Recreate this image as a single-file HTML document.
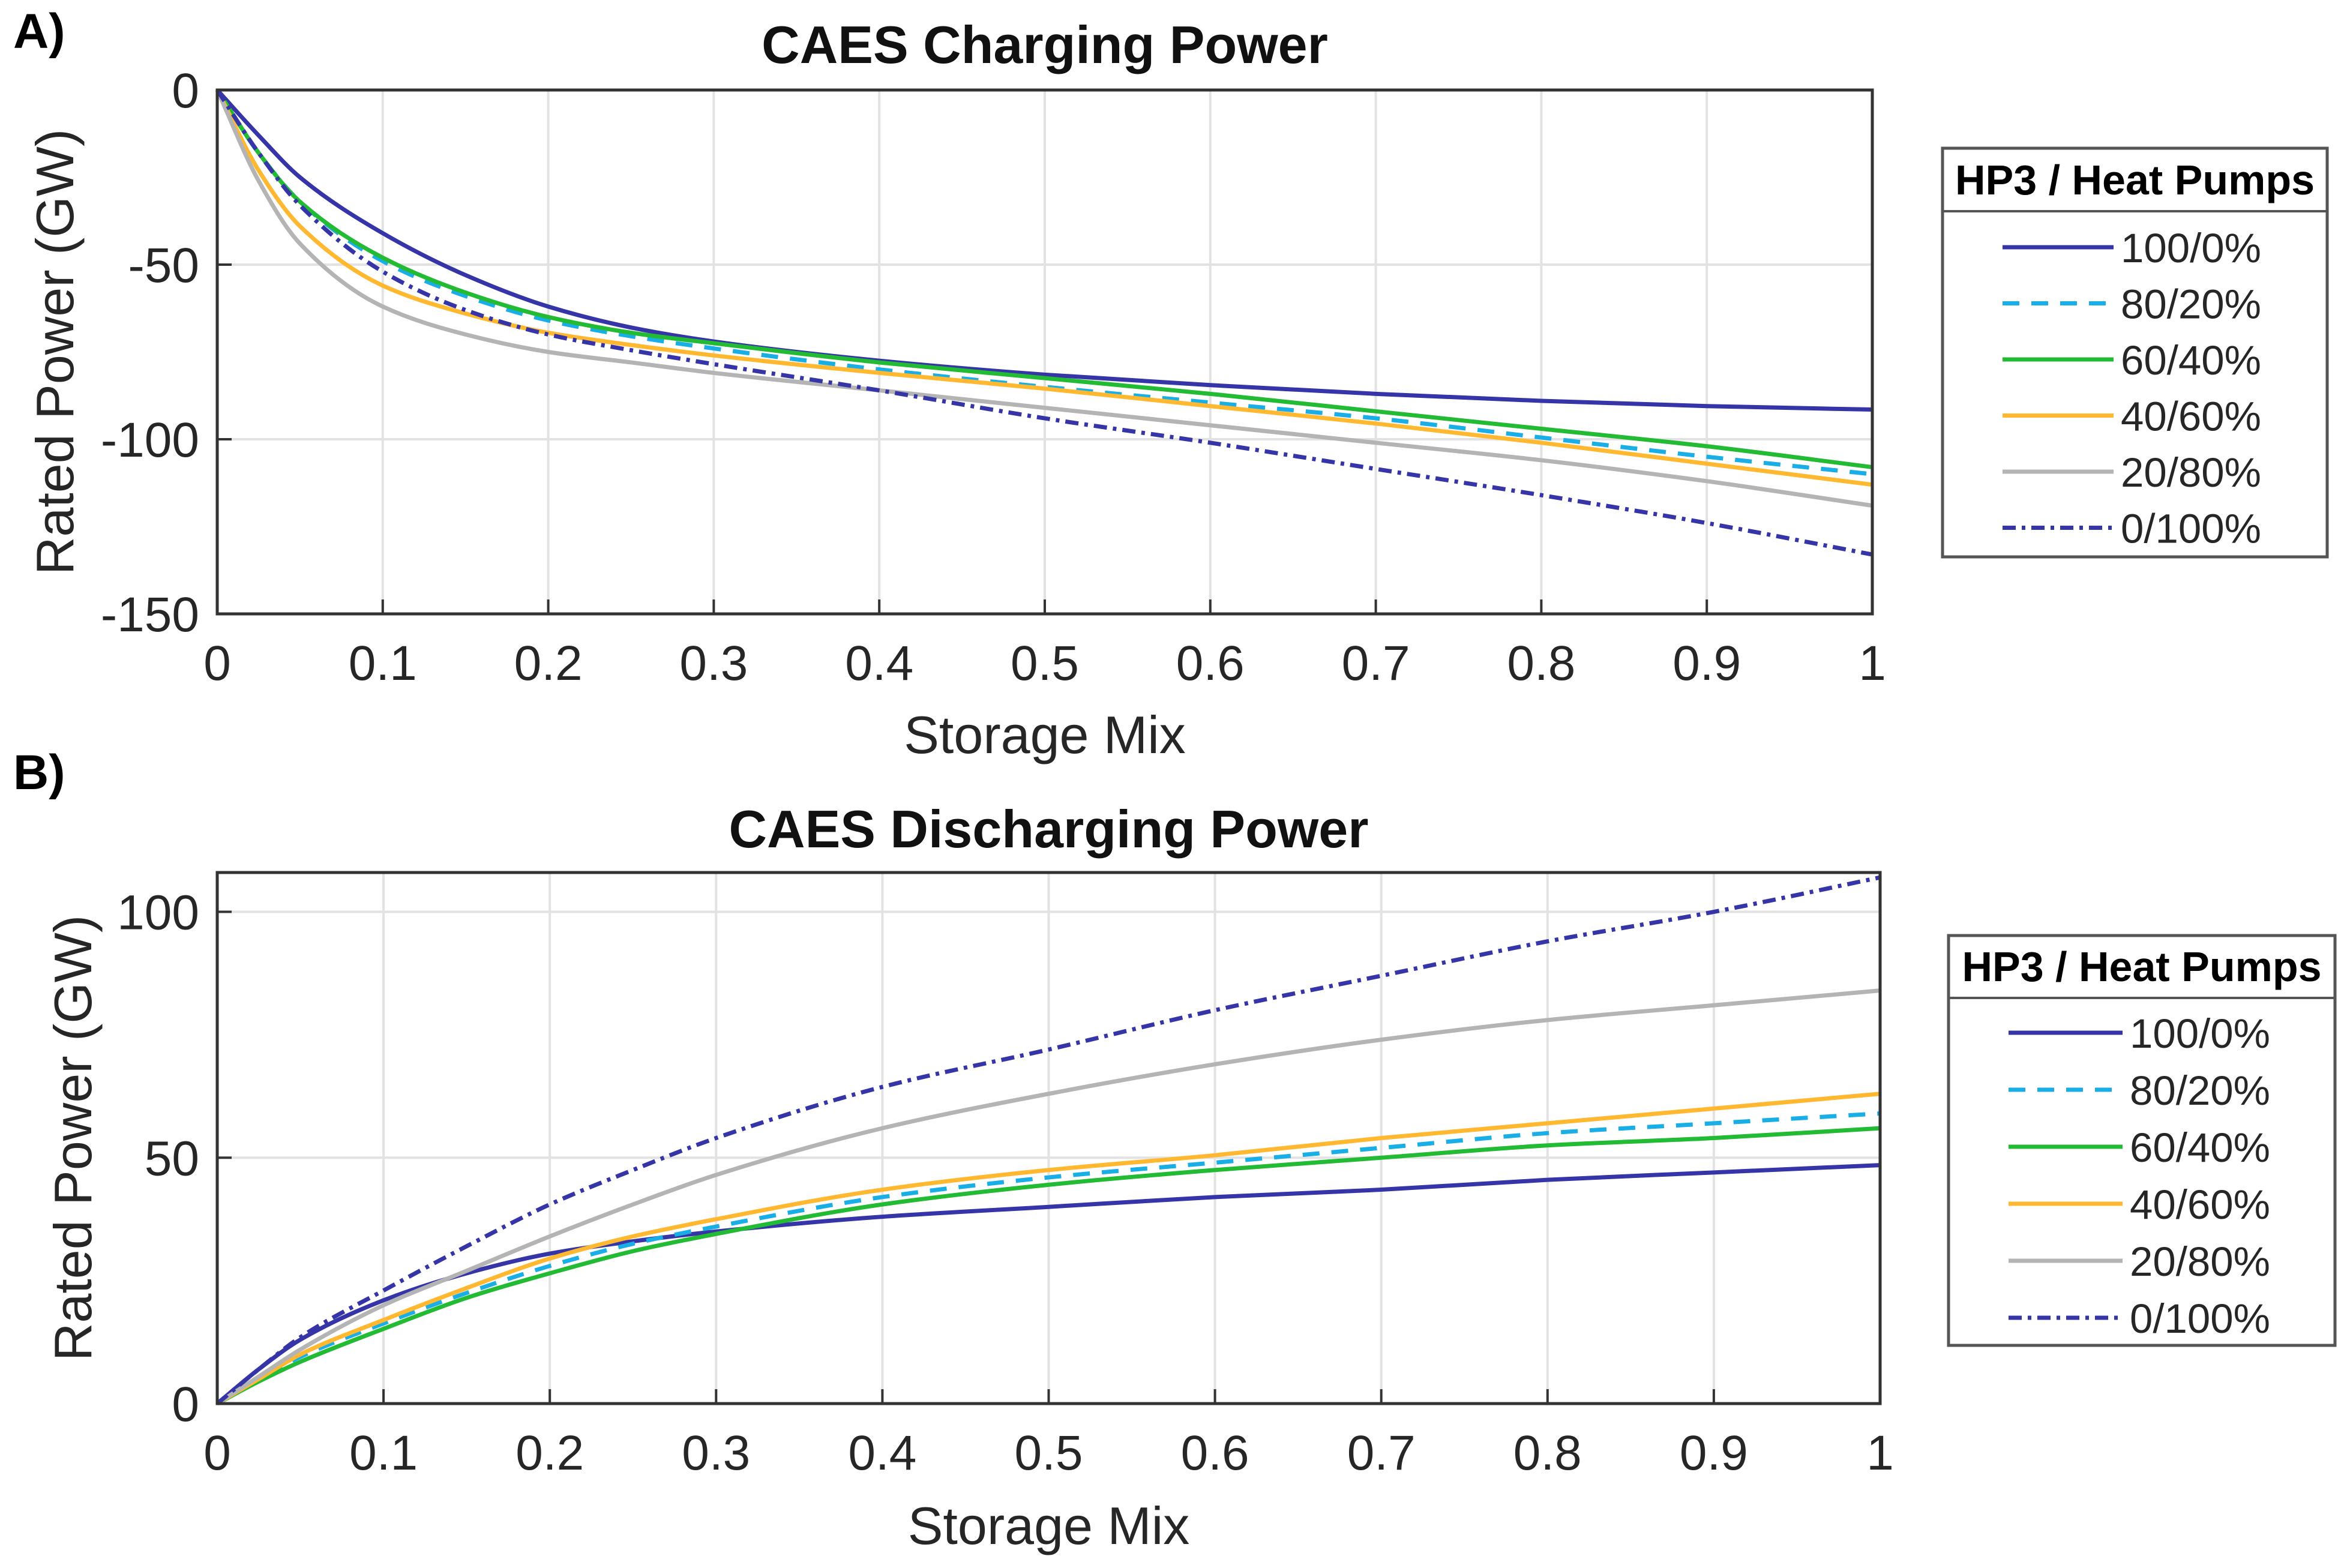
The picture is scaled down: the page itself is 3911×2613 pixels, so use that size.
<!DOCTYPE html>
<html><head><meta charset="utf-8"><style>
body{margin:0;background:#fff}
svg{display:block;font-family:"Liberation Sans",sans-serif}
</style></head><body>
<svg id="chart" width="3911" height="2613" viewBox="0 0 3911 2613" xmlns="http://www.w3.org/2000/svg"></svg>
<script>
const xs=[0,0.025,0.05,0.1,0.15,0.2,0.25,0.3,0.4,0.5,0.6,0.7,0.8,0.9,1];
const xTicks=[0,0.1,0.2,0.3,0.4,0.5,0.6,0.7,0.8,0.9,1];
const xTickLabels=["0","0.1","0.2","0.3","0.4","0.5","0.6","0.7","0.8","0.9","1"];
const seriesNames=["100/0%","80/20%","60/40%","40/60%","20/80%","0/100%"];
const chargeA100=[0,-13,-25,-41,-53,-62,-68,-72,-77.5,-81.5,-84.5,-87,-89,-90.5,-91.5];
const chargeA80=[0,-18,-32,-49,-59,-66,-70.5,-74,-80,-85,-89.5,-94,-99.5,-105,-110];
const chargeA60=[0,-18,-32,-48,-58,-65,-69.5,-72.5,-78,-82.5,-87,-92,-97,-102,-108];
const chargeA40=[0,-23,-39,-56,-64,-69.5,-73,-76,-81,-85.5,-90.5,-95.5,-101,-107,-113];
const chargeA20=[0,-26,-44,-62,-70,-75,-78,-81,-86,-91,-96,-101,-106,-112,-119];
const chargeA0=[0,-18,-33,-52,-63,-70,-74.5,-78.5,-86,-94,-101,-108.5,-116,-124,-133];
const disB100=[0,7,13,21,26.5,30.5,33,35,38,40,42,43.5,45.5,47,48.5];
const disB80=[0,5,9.5,16.3,22.5,28,32.5,36,42,46,49,52,55,57,59];
const disB60=[0,4.5,8.5,15.2,21.5,26.5,31,34.5,40.5,44.5,47.5,50,52.5,54,56];
const disB40=[0,5,10,17,23.5,29.5,34,37.5,43.5,47.5,50.5,54,57,60,63];
const disB20=[0,5.5,11,20,27,34,40.5,46.5,56,63,69,74,78,81,84];
const disB0=[0,7,13.5,23,32,40.5,47.5,54,64.4,72,80,87,94,100,107];
const yTicksA=[0,-50,-100,-150];
const yTicksB=[0,50,100];

const NS="http://www.w3.org/2000/svg";
const svg=document.getElementById('chart');
function mk(tag,attrs,parent,text){const e=document.createElementNS(NS,tag);for(const k in attrs)e.setAttribute(k,attrs[k]);if(text!==undefined)e.textContent=text;(parent||svg).appendChild(e);return e;}
const styles=[
 {c:"#3535a8",d:""},{c:"#1aaee6",d:"28,20"},{c:"#22bb33",d:""},
 {c:"#ffb830",d:""},{c:"#b4b4b4",d:""},{c:"#3535a8",d:"22,10,6,10"}];

function smooth(pts){
 const n=pts.length,dx=[],m=[],t=[];
 for(let i=0;i<n-1;i++){dx[i]=pts[i+1][0]-pts[i][0];m[i]=(pts[i+1][1]-pts[i][1])/dx[i];}
 t[0]=m[0];t[n-1]=m[n-2];
 for(let i=1;i<n-1;i++){ if(m[i-1]*m[i]<=0)t[i]=0; else {const w1=2*dx[i]+dx[i-1],w2=dx[i]+2*dx[i-1];t[i]=(w1+w2)/(w1/m[i-1]+w2/m[i]);}}
 let d="M"+pts[0][0]+","+pts[0][1];
 for(let i=0;i<n-1;i++){const h=dx[i]/3;
  d+=" C"+(pts[i][0]+h)+","+(pts[i][1]+t[i]*h)+" "+(pts[i+1][0]-h)+","+(pts[i+1][1]-t[i+1]*h)+" "+pts[i+1][0]+","+pts[i+1][1];}
 return d;}

function panel(o){
 const g=mk('g',{});
 
 
 const X=v=>o.x0+(o.x1-o.x0)*v, Y=v=>o.y0+(o.y1-o.y0)*(v-o.ymin)/(o.ymax-o.ymin);
 xTicks.forEach((t,i)=>{ if(i>0&&i<xTicks.length-1){const l=mk('line',{x1:X(t),x2:X(t),y1:o.y1,y2:o.y0,stroke:"#e2e2e2","stroke-width":4},g);}
  const tk=mk('line',{x1:X(t),x2:X(t),y1:o.y0,y2:o.y0-24,stroke:"#333","stroke-width":4},g);
  const tl=mk('text',{x:X(t),y:o.y0+110,"text-anchor":"middle","font-size":82,fill:"#262626"},g,xTickLabels[i]);});
 o.yticks.forEach(t=>{const y=Y(t);
  if(t!==o.ymin&&t!==o.ymax){const l=mk('line',{x1:o.x0,x2:o.x1,y1:y,y2:y,stroke:"#e2e2e2","stroke-width":4},g);}
  const tk=mk('line',{x1:o.x0,x2:o.x0+24,y1:y,y2:y,stroke:"#333","stroke-width":4},g);
  const tl=mk('text',{x:o.x0-30,y:y+29,"text-anchor":"end","font-size":82,fill:"#262626"},g,String(t));});
 o.series.forEach((s,i)=>{const p=mk('path',{d:smooth(xs.map((x,j)=>[X(x),Y(s[j])])),fill:"none",stroke:styles[i].c,"stroke-width":7,"stroke-dasharray":styles[i].d},g);
  });
 const fr=mk('rect',{x:o.x0,y:o.ytop,width:o.x1-o.x0,height:o.y0-o.ytop,fill:"none",stroke:"#333","stroke-width":5},g);
 const t=mk('text',{x:(o.x0+o.x1)/2,y:o.titleY,"text-anchor":"middle","font-size":88,"font-weight":"bold",fill:"#111"},g,o.title);
 const xl=mk('text',{x:(o.x0+o.x1)/2,y:o.xlabY,"text-anchor":"middle","font-size":88,fill:"#262626"},g,"Storage Mix");
 const yl=mk('text',{x:0,y:0,transform:`translate(${o.ylabX},${(o.y0+o.ytop)/2}) rotate(-90)`,"text-anchor":"middle","font-size":88,fill:"#262626"},g,"Rated Power (GW)");
 const pl=mk('text',{x:22,y:o.panelY,"font-size":82,"font-weight":"bold",fill:"#000"},g,o.panelLabel);
 const L=o.leg;const lg=mk('g',{},g);
 mk('rect',{x:L.x,y:L.y,width:L.w,height:L.h,fill:"#fff",stroke:"#555","stroke-width":5},lg);
 mk('line',{x1:L.x,x2:L.x+L.w,y1:L.sep,y2:L.sep,stroke:"#555","stroke-width":4},lg);
 const lt=mk('text',{x:L.x+L.w/2,y:L.sep-28,"text-anchor":"middle","font-size":70,"font-weight":"bold",fill:"#000"},lg,"HP3 / Heat Pumps");
 seriesNames.forEach((n,i)=>{const y=L.row0+i*L.dy;const e=mk('g',{},lg);
  mk('line',{x1:L.lx0,x2:L.lx1,y1:y,y2:y,stroke:styles[i].c,"stroke-width":7,"stroke-dasharray":styles[i].d},e);
  mk('text',{x:L.lx1+12,y:y+25,"font-size":69,fill:"#262626"},e,n);});
}
panel({name:'charging-panel',x0:362,x1:3120,y0:1023,y1:150,ytop:150,ymin:-150,ymax:0,yticks:yTicksA,
 series:[chargeA100,chargeA80,chargeA60,chargeA40,chargeA20,chargeA0],title:"CAES Charging Power",titleY:105,xlabY:1255,ylabX:122,panelLabel:"A)",panelY:80,
 leg:{x:3237,y:247,w:641,h:681,sep:352,row0:412,dy:93.5,lx0:3337,lx1:3522}});
panel({name:'discharging-panel',x0:362,x1:3133,y0:2339,y1:1454,ytop:1454,ymin:0,ymax:108,yticks:yTicksB,
 series:[disB100,disB80,disB60,disB40,disB20,disB0],title:"CAES Discharging Power",titleY:1412,xlabY:2573,ylabX:152,panelLabel:"B)",panelY:1315,
 leg:{x:3247,y:1559,w:644,h:683,sep:1663,row0:1721,dy:95,lx0:3347,lx1:3537}});
</script>
</body></html>
